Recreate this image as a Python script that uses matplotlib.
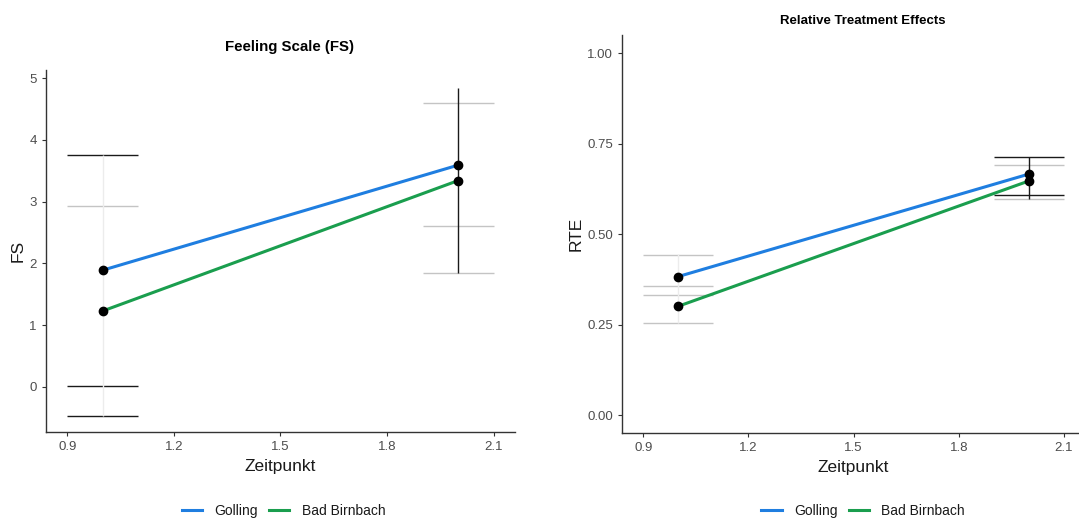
import matplotlib.pyplot as plt
from matplotlib.lines import Line2D

plt.rcParams['font.family'] = ['Liberation Sans', 'DejaVu Sans']

# data
zeit = [1, 2]
groups = ['Golling', 'Bad Birnbach']

fs_golling = [1.89, 3.59]
fs_bad = [1.23, 3.34]
# error bar caps (x, y) and whiskers (x, ymin, ymax)
fs_caps_dark = [(1, 3.76), (1, 0.02), (1, -0.47)]
fs_caps_light = [(1, 2.93), (2, 4.60), (2, 2.60), (2, 1.85)]
fs_whisk_dark = [(2, 1.85, 4.84)]
fs_whisk_light = [(1, -0.47, 3.76)]

rte_golling = [0.383, 0.666]
rte_bad = [0.301, 0.647]
rte_caps_dark = [(2, 0.713), (2, 0.607)]
rte_caps_light = [(1, 0.443), (1, 0.356), (1, 0.331), (1, 0.255), (2, 0.692), (2, 0.597)]
rte_whisk_dark = [(2, 0.597, 0.713)]
rte_whisk_light = [(1, 0.255, 0.445)]

x_ticks = [0.9, 1.2, 1.5, 1.8, 2.1]

blue = '#1f7ee0'
green = '#1a9e4e'
dark = '#1a1a1a'
light = '#c4c4c4'
whisk_light = '#ececec'


def panel(ax, ya, yb, caps_dark, caps_light, whisk_dark, whisk_light_, title, ylabel, tsize, tpad):
    for x, y in caps_light:
        ax.hlines(y, x - 0.1, x + 0.1, color=light, lw=1.0, zorder=1)
    for x, y in caps_dark:
        ax.hlines(y, x - 0.1, x + 0.1, color=dark, lw=1.0, zorder=1)
    for x, lo, hi in whisk_light_:
        ax.vlines(x, lo, hi, color=whisk_light, lw=1.0, zorder=1)
    for x, lo, hi in whisk_dark:
        ax.vlines(x, lo, hi, color=dark, lw=1.0, zorder=1)
    ax.plot(zeit, ya, color=blue, lw=2.2, zorder=2, solid_capstyle='butt')
    ax.plot(zeit, yb, color=green, lw=2.2, zorder=2, solid_capstyle='butt')
    ax.scatter(zeit + zeit, ya + yb, color='black', s=36, zorder=3)
    ax.set_xlim(0.84, 2.16)
    ax.set_xticks(x_ticks)
    ax.set_xticklabels([f'{t:.1f}' for t in x_ticks])
    for s in ['top', 'right']:
        ax.spines[s].set_visible(False)
    for s in ['left', 'bottom']:
        ax.spines[s].set_color('#333333')
        ax.spines[s].set_linewidth(1.0)
    ax.tick_params(length=3, color='#333333', labelcolor='#4d4d4d', labelsize=9.5, width=0.8)
    ax.set_xlabel('Zeitpunkt', fontsize=12.5, color='#1a1a1a', labelpad=4)
    ax.set_ylabel(ylabel, fontsize=12.5, color='#1a1a1a', labelpad=3)
    ax.set_title(title, fontsize=tsize, fontweight='bold', pad=tpad, x=0.52)


fig = plt.figure(figsize=(10.79, 5.20), dpi=100)

ax1 = fig.add_axes([0.0426, 0.1692, 0.4347, 0.6962])
panel(ax1, fs_golling, fs_bad, fs_caps_dark, fs_caps_light, fs_whisk_dark, fs_whisk_light,
      'Feeling Scale (FS)', 'FS', 10.8, 14)
ax1.set_ylim(-0.73, 5.13)
ax1.set_yticks([0, 1, 2, 3, 4, 5])

ax2 = fig.add_axes([0.5767, 0.1667, 0.4289, 0.7660])
panel(ax2, rte_golling, rte_bad, rte_caps_dark, rte_caps_light, rte_whisk_dark, rte_whisk_light,
      'Relative Treatment Effects', 'RTE', 9.5, 8)
ax2.set_ylim(-0.05, 1.05)
ax2.set_yticks([0, 0.25, 0.5, 0.75, 1.0])
ax2.set_yticklabels(['0.00', '0.25', '0.50', '0.75', '1.00'])

handles = [Line2D([], [], color=blue, lw=2.2), Line2D([], [], color=green, lw=2.2)]
for cx in [0.263, 0.8]:
    fig.legend(handles, groups, loc='center', bbox_to_anchor=(cx, 0.017), ncol=2,
               frameon=False, fontsize=10, handlelength=1.45, columnspacing=0.8,
               handletextpad=0.9, labelcolor='#1a1a1a')

fig.savefig('out.png', dpi=100)
